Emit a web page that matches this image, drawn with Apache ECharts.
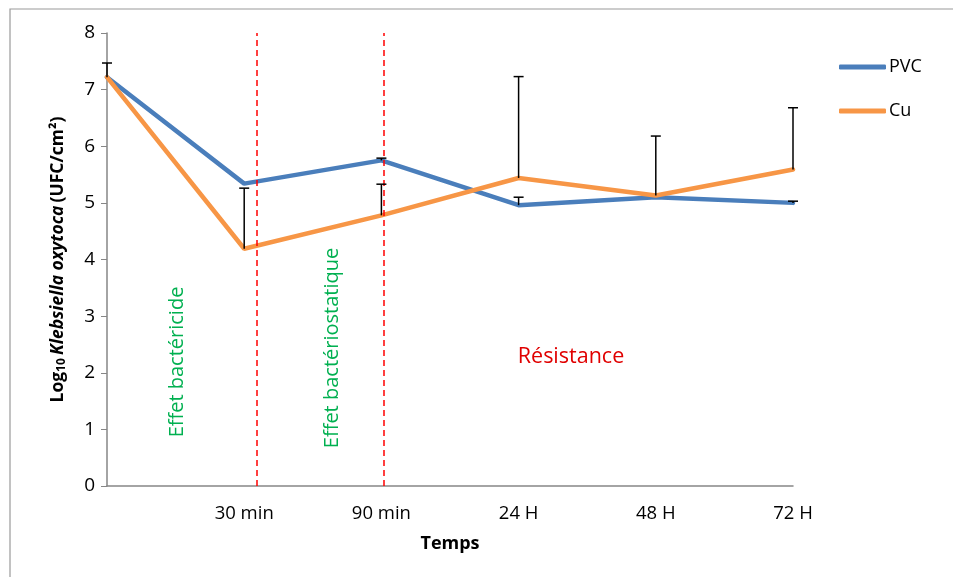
<!DOCTYPE html>
<html>
<head>
<meta charset="utf-8">
<script src="https://cdn.jsdelivr.net/npm/echarts@6/dist/echarts.min.js"></script>
<style>
  html, body { margin: 0; padding: 0; background: #fff; }
  #main { width: 953px; height: 577px; }
</style>
</head>
<body>
<div id="main"></div>
<script>
// 数据
var categories = ['', '30 min', '90 min', '24 H', '48 H', '72 H'];
var pvcValues = [7.22, 5.34, 5.75, 4.96, 5.10, 5.00];
var cuValues = [7.22, 4.19, 4.78, 5.44, 5.13, 5.59];
// 误差线上端（null 表示无误差线）
var pvcErrTop = [7.47, null, 5.79, 5.10, null, 5.03];
var cuErrTop = [null, 5.26, 5.33, 7.23, 6.18, 6.68];
// 红色虚线位置（以类目序号计）
var phaseLines = [1.086, 2.021];
var yTicks = [0, 1, 2, 3, 4, 5, 6, 7, 8];

var font = '"Open Sans", "Liberation Sans", sans-serif';

var myChart = echarts.init(document.getElementById('main'));

function toPairs(arr) {
    return arr.map(function (v, i) { return [i, v]; });
}

function errData(values, tops) {
    var out = [];
    for (var i = 0; i < values.length; i++) {
        if (tops[i] != null) out.push([i, values[i], tops[i]]);
    }
    return out;
}

function renderErr(params, api) {
    var p0 = api.coord([api.value(0), api.value(1)]);
    var p1 = api.coord([api.value(0), api.value(2)]);
    var cap = 5;
    return {
        type: 'group',
        children: [
            { type: 'line', shape: { x1: p0[0], y1: p0[1], x2: p1[0], y2: p1[1] },
              style: { stroke: '#000', lineWidth: 1.5 } },
            { type: 'line', shape: { x1: p1[0] - cap, y1: p1[1], x2: p1[0] + cap, y2: p1[1] },
              style: { stroke: '#000', lineWidth: 1.5 } }
        ]
    };
}

var option = {
    backgroundColor: '#fff',
    animation: false,
    textStyle: { fontFamily: font },
    grid: { left: 107, right: 160, top: 33, bottom: 91 },
    legend: {
        orient: 'vertical',
        left: 834,
        top: 53,
        icon: 'roundRect',
        itemWidth: 47,
        itemHeight: 5,
        itemGap: 26,
        textStyle: { fontSize: 18, color: '#000', fontFamily: font, padding: [0, 0, 0, -2] },
        data: ['PVC', 'Cu']
    },
    xAxis: {
        type: 'value',
        min: 0,
        max: 5,
        interval: 1,
        splitLine: { show: false },
        axisTick: { show: false },
        axisLine: { lineStyle: { color: '#868686', width: 1.5 } },
        axisLabel: {
            color: '#000',
            fontSize: 18.5,
            margin: 18,
            formatter: function (v) { return categories[v] || ''; }
        },
        name: 'Temps',
        nameLocation: 'middle',
        nameGap: 49,
        nameTextStyle: { fontSize: 18, fontWeight: 'bold', color: '#000' }
    },
    yAxis: {
        type: 'value',
        min: yTicks[0],
        max: yTicks[yTicks.length - 1],
        interval: 1,
        splitLine: { show: false },
        axisLine: { show: true, lineStyle: { color: '#868686', width: 1.5 } },
        axisTick: { show: true, length: 6, lineStyle: { color: '#868686' } },
        axisLabel: { color: '#000', fontSize: 19, margin: 12 },
        name: '{b|Log}{sub|10} {bi|Klebsiella oxytoca} {b|(UFC/cm²)}',
        nameLocation: 'middle',
        nameRotate: 90,
        nameGap: 39,
        nameTextStyle: {
            rich: {
                b: { fontSize: 17.5, fontWeight: 'bold', color: '#000', fontFamily: font },
                bi: { fontSize: 17.5, fontWeight: 'bold', fontStyle: 'italic', color: '#000', fontFamily: font },
                sub: { fontSize: 12, fontWeight: 'bold', color: '#000', fontFamily: font, verticalAlign: 'bottom', padding: [7, 0, 0, 0] }
            }
        }
    },
    graphic: [
        { type: 'rect', shape: { x: 10, y: 9, width: 960, height: 600 },
          style: { fill: 'none', stroke: '#9a9a9a', lineWidth: 1.2 }, silent: true },
        { type: 'text', x: 177, y: 362, rotation: Math.PI / 2,
          style: { text: 'Effet bactéricide', fill: '#00b050', fontSize: 20, fontFamily: font,
                   align: 'center', verticalAlign: 'middle' } },
        { type: 'text', x: 332, y: 348, rotation: Math.PI / 2,
          style: { text: 'Effet bactériostatique', fill: '#00b050', fontSize: 20, fontFamily: font,
                   align: 'center', verticalAlign: 'middle' } },
        { type: 'text', x: 571, y: 357,
          style: { text: 'Résistance', fill: '#e00000', fontSize: 21.5, fontFamily: font,
                   align: 'center', verticalAlign: 'middle' } }
    ],
    series: [
        {
            name: 'PVC',
            type: 'line',
            symbol: 'none',
            color: '#4a7ebb',
            lineStyle: { width: 4.5, color: '#4a7ebb', cap: 'round' },
            data: toPairs(pvcValues),
            markLine: {
                silent: true,
                symbol: 'none',
                label: { show: false },
                lineStyle: { color: '#ff0000', type: [6, 4], width: 1.5 },
                data: phaseLines.map(function (x) { return { xAxis: x }; })
            }
        },
        {
            name: 'Cu',
            type: 'line',
            symbol: 'none',
            color: '#f79646',
            lineStyle: { width: 4.5, color: '#f79646', cap: 'round' },
            data: toPairs(cuValues)
        },
        {
            name: 'errPVC',
            type: 'custom',
            renderItem: renderErr,
            encode: { x: 0, y: [1, 2] },
            z: 5,
            data: errData(pvcValues, pvcErrTop)
        },
        {
            name: 'errCu',
            type: 'custom',
            renderItem: renderErr,
            encode: { x: 0, y: [1, 2] },
            z: 5,
            data: errData(cuValues, cuErrTop)
        }
    ]
};

myChart.setOption(option);
window.onresize = myChart.resize;
</script>
</body>
</html>
